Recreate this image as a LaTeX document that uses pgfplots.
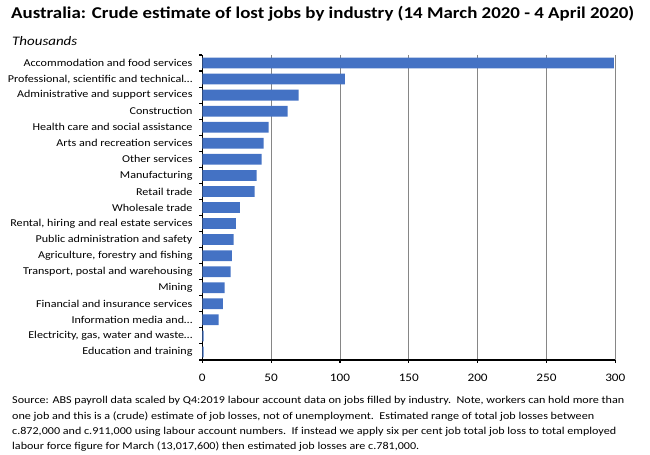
\documentclass[border=0pt]{standalone}
\usepackage{pgfplots}
\pgfplotsset{compat=1.18}
\usepackage{fontspec}
\setmainfont{Carlito}
\definecolor{barblue}{HTML}{4472C4}
\definecolor{gridgray}{RGB}{134,134,134}
\newcommand\hs[1]{\scalebox{1.15}[1]{#1}}
\newcommand\fl[2]{\resizebox{#1bp}{\height}{#2}}
\begin{document}
\begin{tikzpicture}[x=1bp,y=1bp]
\useasboundingbox (0,0) rectangle (650,455);
\node[anchor=base west,inner sep=0pt,font=\fontsize{16.5bp}{18bp}\selectfont\bfseries] at (11,436) {\fl{623}{Australia: Crude estimate of lost jobs by industry (14 March 2020 - 4 April 2020)}};
\node[anchor=base west,inner sep=0pt,font=\fontsize{13bp}{15bp}\selectfont\itshape] at (12,409.3) {\fl{65}{Thousands}};
\begin{axis}[
  at={(202.3bp,95bp)}, anchor=south west,
  scale only axis, width=413bp, height=305bp,
  xbar, bar width=0.67,
  xmin=0, xmax=300,
  ymin=-0.5, ymax=18.5, y dir=reverse,
  axis x line*=bottom, axis y line*=left,
  axis line style={black, line width=1.1bp},
  xtick={0,50,...,300},
  xticklabels={\hs{0},\hs{50},\hs{100},\hs{150},\hs{200},\hs{250},\hs{300}},
  xmajorgrids, major grid style={gridgray, line width=0.9bp},
  tick align=outside, major tick length=3bp,
  tick style={black, line width=1.1bp},
  ytick={-0.5,0.5,...,18.5}, yticklabels={},
  extra y ticks={0,1,...,18},
  extra y tick labels={\hs{Accommodation and food services},\hs{Professional, scientific and technical…},\hs{Administrative and support services},\hs{Construction},\hs{Health care and social assistance},\hs{Arts and recreation services},\hs{Other services},\hs{Manufacturing},\hs{Retail trade},\hs{Wholesale trade},\hs{Rental, hiring and real estate services},\hs{Public administration and safety},\hs{Agriculture, forestry and fishing},\hs{Transport, postal and warehousing},\hs{Mining},\hs{Financial and insurance services},\hs{Information media and…},\hs{Electricity, gas, water and waste…},\hs{Education and training}},
  extra y tick style={major tick length=0pt, ymajorgrids=false,
     yticklabel style={anchor=east, inner sep=0pt, xshift=-9.6bp, font=\fontsize{10.5bp}{12bp}\selectfont}},
  xticklabel style={anchor=base, inner sep=0pt, yshift=-19bp, font=\fontsize{11.5bp}{13bp}\selectfont},
  clip=false,
]
\addplot[fill=barblue, draw=none] coordinates {
(299,0) (103.5,1) (70,2) (62,3) (48.2,4) (44.5,5) (43,6) (39.5,7) (38,8)
(27.3,9) (24.3,10) (22.7,11) (21.5,12) (20.5,13) (16.2,14) (14.9,15) (11.9,16) (1.0,17) (0.9,18)
};
\end{axis}
\begin{scope}[every node/.style={anchor=base west,inner sep=0pt,font=\fontsize{10.5bp}{12bp}\selectfont}]
\node at (12,51) {\fl{612}{Source: ABS payroll data scaled by Q4:2019 labour account data on jobs filled by industry.\ \ Note, workers can hold more than}};
\node at (12,35.8) {\fl{582}{one job and this is a (crude) estimate of job losses, not of unemployment.\ \ Estimated range of total job losses between}};
\node at (12,20.6) {\fl{604}{c.872,000 and c.911,000 using labour account numbers.\ \ If instead we apply six per cent job total job loss to total employed}};
\node at (12,5.4) {\fl{407}{labour force figure for March (13,017,600) then estimated job losses are c.781,000.}};
\end{scope}
\end{tikzpicture}
\end{document}
